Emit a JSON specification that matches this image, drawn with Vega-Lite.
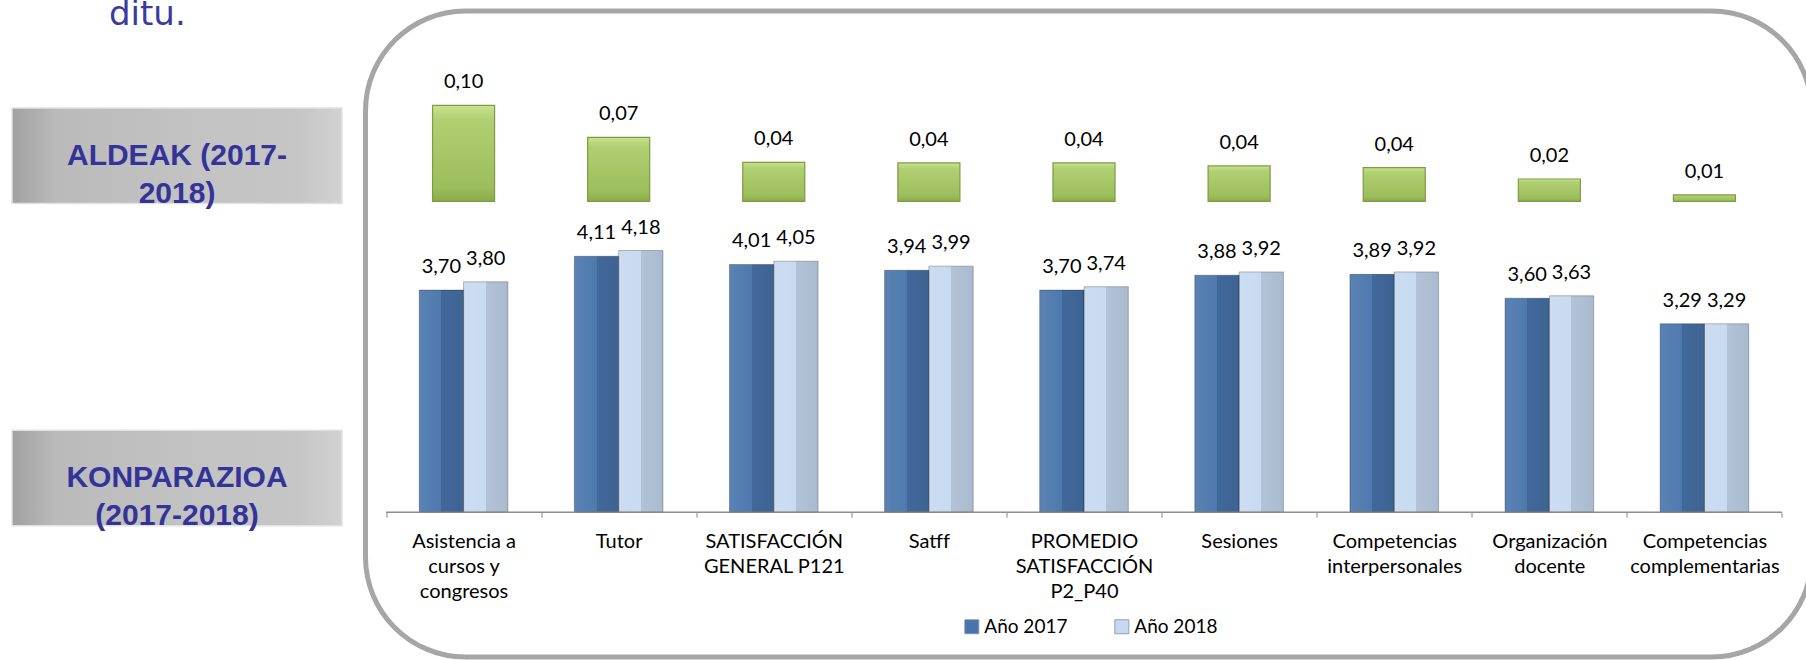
{
  "$schema": "https://vega.github.io/schema/vega-lite/v6.json",
  "padding": {"left": 11, "top": -2, "right": 0, "bottom": 0},
  "background": "white",
  "bounds": "flush",
  "spacing": 23.5,
  "config": {
    "view": {"stroke": null},
    "locale": {"number": {"decimal": ",", "thousands": ".", "grouping": [3], "currency": ["", " €"]}},
    "font": "Lato"
  },
  "datasets": {
    "boxes": [
      {"box": "A", "label": "ALDEAK (2017-\n2018)"},
      {"box": "K", "label": "KONPARAZIOA\n(2017-2018)"}
    ],
    "green": [
      {"cat": "Asistencia a\ncursos y\ncongresos", "diff": 0.1},
      {"cat": "Tutor", "diff": 0.0667},
      {"cat": "SATISFACCIÓN\nGENERAL P121", "diff": 0.0406},
      {"cat": "Satff", "diff": 0.04},
      {"cat": "PROMEDIO\nSATISFACCIÓN\nP2_P40", "diff": 0.04},
      {"cat": "Sesiones", "diff": 0.0369},
      {"cat": "Competencias\ninterpersonales", "diff": 0.0352},
      {"cat": "Organización\ndocente", "diff": 0.0233},
      {"cat": "Competencias\ncomplementarias", "diff": 0.0067}
    ],
    "blue": [
      {"cat": "Asistencia a\ncursos y\ncongresos", "year": "Año 2017", "value": 3.70},
      {"cat": "Asistencia a\ncursos y\ncongresos", "year": "Año 2018", "value": 3.80},
      {"cat": "Tutor", "year": "Año 2017", "value": 4.11},
      {"cat": "Tutor", "year": "Año 2018", "value": 4.18},
      {"cat": "SATISFACCIÓN\nGENERAL P121", "year": "Año 2017", "value": 4.01},
      {"cat": "SATISFACCIÓN\nGENERAL P121", "year": "Año 2018", "value": 4.05},
      {"cat": "Satff", "year": "Año 2017", "value": 3.94},
      {"cat": "Satff", "year": "Año 2018", "value": 3.99},
      {"cat": "PROMEDIO\nSATISFACCIÓN\nP2_P40", "year": "Año 2017", "value": 3.70},
      {"cat": "PROMEDIO\nSATISFACCIÓN\nP2_P40", "year": "Año 2018", "value": 3.74},
      {"cat": "Sesiones", "year": "Año 2017", "value": 3.88},
      {"cat": "Sesiones", "year": "Año 2018", "value": 3.92},
      {"cat": "Competencias\ninterpersonales", "year": "Año 2017", "value": 3.89},
      {"cat": "Competencias\ninterpersonales", "year": "Año 2018", "value": 3.92},
      {"cat": "Organización\ndocente", "year": "Año 2017", "value": 3.60},
      {"cat": "Organización\ndocente", "year": "Año 2018", "value": 3.63},
      {"cat": "Competencias\ncomplementarias", "year": "Año 2017", "value": 3.29},
      {"cat": "Competencias\ncomplementarias", "year": "Año 2018", "value": 3.29}
    ]
  },
  "hconcat": [
    {
      "width": 330,
      "height": 646,
      "title": {
        "text": "ditu.",
        "anchor": "start",
        "frame": "group",
        "orient": "top",
        "offset": -48.4,
        "dx": 97,
        "baseline": "alphabetic",
        "font": "DejaVu Sans",
        "fontSize": 34,
        "fontWeight": "normal",
        "color": "#3b3b9f"
      },
      "data": {"name": "boxes"},
      "encoding": {
        "y": {
          "field": "box",
          "type": "nominal",
          "sort": null,
          "axis": null,
          "scale": {"paddingInner": 0.7036, "paddingOuter": 0.3543, "align": 0.4249}
        }
      },
      "layer": [
        {
          "mark": {
            "type": "rect",
            "fill": {
              "gradient": "linear",
              "x1": 0, "y1": 0, "x2": 1, "y2": 0,
              "stops": [
                {"offset": 0, "color": "#a0a0a0"},
                {"offset": 0.13, "color": "#bababa"},
                {"offset": 0.5, "color": "#c2c2c2"},
                {"offset": 0.87, "color": "#c6c6c6"},
                {"offset": 1, "color": "#d2d2d2"}
              ]
            },
            "stroke": "#e2e2e2",
            "strokeWidth": 1.5
          }
        },
        {
          "mark": {
            "type": "text",
            "font": "Liberation Sans",
            "fontWeight": "bold",
            "fontSize": 30,
            "color": "#333399",
            "lineBreak": "\n",
            "lineHeight": 38,
            "baseline": "middle",
            "align": "center"
          },
          "encoding": {"text": {"field": "label"}}
        }
      ]
    },
    {
      "width": 1446,
      "height": 646,
      "view": {"stroke": "#a6a6a6", "strokeWidth": 5, "cornerRadius": 100, "fill": "white"},
      "encoding": {
        "x": {
          "field": "cat",
          "type": "nominal",
          "sort": null,
          "title": null,
          "scale": {
            "domain": [
              "Asistencia a\ncursos y\ncongresos",
              "Tutor",
              "SATISFACCIÓN\nGENERAL P121",
              "Satff",
              "PROMEDIO\nSATISFACCIÓN\nP2_P40",
              "Sesiones",
              "Competencias\ninterpersonales",
              "Organización\ndocente",
              "Competencias\ncomplementarias"
            ],
            "paddingInner": 0,
            "paddingOuter": 0.1612,
            "align": 0.41
          },
          "axis": {
            "orient": "bottom",
            "offset": -144.8,
            "domain": false,
            "ticks": true,
            "tickBand": "extent",
            "tickSize": 5,
            "tickColor": "#868686",
            "tickWidth": 1,
            "grid": false,
            "labelAngle": 0,
            "labelFont": "Lato",
            "labelFontSize": 20,
            "labelColor": "#000000",
            "labelPadding": 14.5,
            "labelLineHeight": 25,
            "labelExpr": "split(datum.label, '\\n')",
            "labelOverlap": false,
            "labelBound": false,
            "labelLimit": 400,
            "title": null
          }
        }
      },
      "layer": [
        {
          "data": {"name": "green"},
          "encoding": {
            "y": {
              "field": "diff",
              "type": "quantitative",
              "axis": null,
              "scale": {"domain": [-0.4746, 0.1983], "nice": false, "zero": false}
            }
          },
          "layer": [
            {
              "mark": {
                "type": "bar",
                "width": {"band": 0.4},
                "fill": {
                  "gradient": "linear",
                  "x1": 0, "y1": 0, "x2": 0, "y2": 1,
                  "stops": [
                    {"offset": 0, "color": "#c8e48e"},
                    {"offset": 0.15, "color": "#b0cf72"},
                    {"offset": 0.85, "color": "#9dbe5c"},
                    {"offset": 1, "color": "#8aab48"}
                  ]
                },
                "stroke": "#7d9a45",
                "strokeWidth": 1.2
              },
              "encoding": {"y2": {"datum": 0}}
            },
            {
              "mark": {
                "type": "text",
                "baseline": "alphabetic",
                "dy": -17,
                "font": "Lato",
                "fontSize": 20,
                "color": "#000000"
              },
              "encoding": {"text": {"field": "diff", "type": "quantitative", "format": ".2f"}}
            }
          ]
        },
        {
          "data": {"name": "blue"},
          "encoding": {
            "y": {
              "field": "value",
              "type": "quantitative",
              "axis": null,
              "scale": {"domain": [-0.759, 7.09], "nice": false, "zero": false}
            },
            "xOffset": {
              "field": "year",
              "type": "nominal",
              "sort": null,
              "scale": {"paddingInner": 0, "paddingOuter": 0.75}
            }
          },
          "layer": [
            {
              "mark": {"type": "bar"},
              "encoding": {
                "y2": {"datum": 1},
                "color": {
                  "field": "year",
                  "type": "nominal",
                  "sort": null,
                  "scale": {"range": ["#4874ab", "#c6d9f0"]},
                  "legend": {
                    "orient": "none",
                    "legendX": 950.3,
                    "legendY": 606,
                    "direction": "horizontal",
                    "title": null,
                    "symbolType": "square",
                    "symbolSize": 196,
                    "symbolStrokeWidth": 0.8,
                    "symbolStrokeColor": "#7f8fa6",
                    "labelFont": "Lato",
                    "labelFontSize": 19,
                    "labelColor": "#000000",
                    "labelOffset": 3,
                    "columnPadding": 44,
                    "padding": 0
                  }
                }
              }
            },
            {
              "mark": {
                "type": "bar",
                "fill": {
                  "gradient": "linear",
                  "x1": 0, "y1": 0, "x2": 1, "y2": 0,
                  "stops": [
                    {"offset": 0, "color": "rgba(255,255,255,0.10)"},
                    {"offset": 0.5, "color": "rgba(255,255,255,0.04)"},
                    {"offset": 0.5, "color": "rgba(0,0,0,0.10)"},
                    {"offset": 1, "color": "rgba(0,0,0,0.14)"}
                  ]
                },
                "stroke": "rgba(0,0,0,0.25)",
                "strokeWidth": 1
              },
              "encoding": {"y2": {"datum": 1}}
            },
            {
              "mark": {
                "type": "text",
                "baseline": "alphabetic",
                "dy": -17,
                "font": "Lato",
                "fontSize": 20,
                "color": "#000000"
              },
              "encoding": {"text": {"field": "value", "type": "quantitative", "format": ".2f"}}
            }
          ]
        },
        {
          "data": {"name": "green"},
          "mark": {"type": "bar", "fillOpacity": 0, "stroke": "#868686", "strokeWidth": 1},
          "encoding": {
            "y": {
              "datum": 1,
              "type": "quantitative",
              "axis": null,
              "scale": {"domain": [-0.759, 7.09], "nice": false, "zero": false}
            },
            "y2": {"datum": 1}
          }
        }
      ],
      "resolve": {"scale": {"y": "independent"}}
    }
  ]
}
